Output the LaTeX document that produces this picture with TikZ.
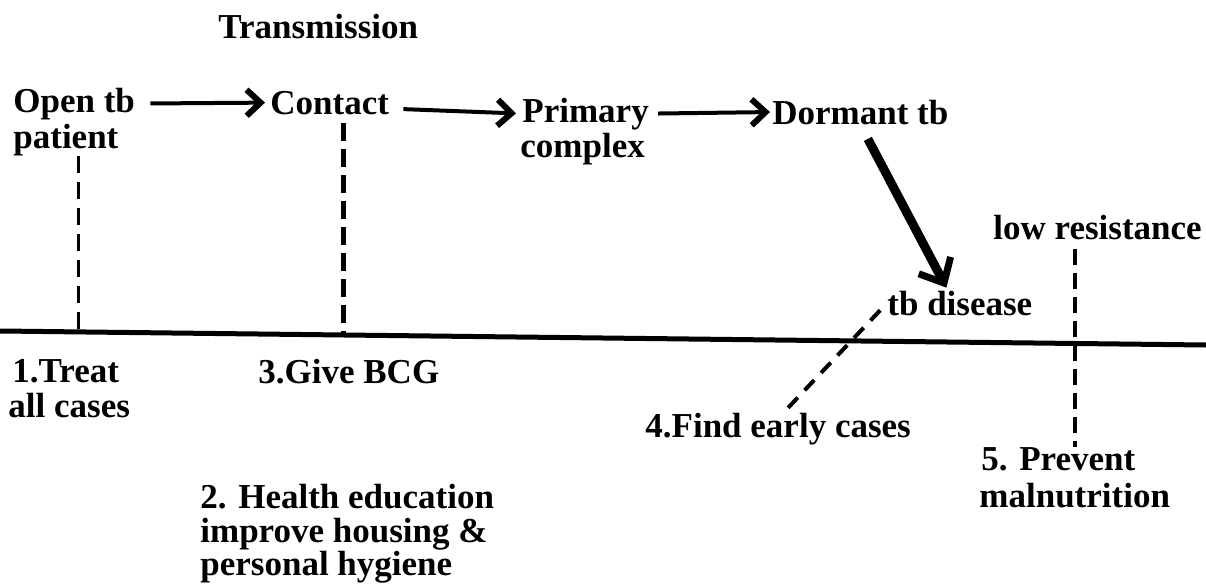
\documentclass[tikz,border=0pt]{standalone}
\usepackage{fontspec}
\setmainfont{Liberation Serif}
\usetikzlibrary{arrows.meta, calc}
\tikzset{
    flow/.style={line width=2pt, -{Straight Barb[length=7pt, width=13pt, line width=3pt]}},
    cut/.style={line width=1.5pt, dash pattern=on 8.5pt off 4.5pt},
}

\begin{document}
\begin{tikzpicture}[x=0.5pt, y=-0.5pt]
\useasboundingbox (0,0) rectangle (1206,584);
\begin{scope}[every node/.style={anchor=base west, inner sep=0pt, font=\fontsize{17.5}{21}\selectfont\bfseries}]
    \node (trans) at (218,38) {Transmission};
    \node (open) at (13,112) {Open tb};
    \node (open2) at (13,148) {patient};
    \node (contact) at (270,114) {Contact};
    \node (primary) at (522,122) {Primary};
    \node (primary2) at (520,157) {complex};
    \node (dormant) at (772,124) {Dormant tb};
    \node (lowres) at (993,239) {low resistance};
    \node (disease) at (887,315) {tb disease};
    \node (treat) at (12,382) {1.Treat};
    \node (treat2) at (8,417) {all cases};
    \node (bcg) at (258,383) {3.Give BCG};
    \node (find) at (645,437) {4.Find early cases};
    \node (prevent) at (981,470) {5. Prevent};
    \node (prevent2) at (979,507) {malnutrition};
    \node (health) at (200,508) {2. Health education};
    \node (health2) at (200,542) {improve housing \&};
    \node (health3) at (200,575) {personal hygiene};
\end{scope}

\coordinate (lineL) at (0,331);
\coordinate (lineR) at (1206,345);
\coordinate (cut1) at (78,332);
\coordinate (cut3) at (343,335);
\coordinate (cut4) at (786,410);
\coordinate (cut5) at (1075,344);

\draw[line width=2.5pt] (lineL) -- (lineR);

\draw[flow, shorten <=7.5pt, shorten >=2.5pt] (open.east) -- (contact.west);
\draw[flow, shorten <=7pt, shorten >=3pt] ([yshift=-3pt]contact.east) -- (primary.west);
\draw[flow, shorten <=4.5pt, shorten >=1pt] (primary.east) -- (dormant.west);
\draw[line width=4.5pt, shorten <=8pt, shorten >=1.5pt, -{Straight Barb[length=10pt, width=18pt, line width=3.5pt]}] (dormant.south) -- ([xshift=-6pt]disease.north);

\draw[cut] (open2.south -| cut1) -- (cut1);
\draw[cut, line width=2.5pt, dash pattern=on 9pt off 4pt, shorten <=4pt] (contact.south -| cut3) -- (cut3);
\draw[cut, line width=2pt, dash pattern=on 7pt off 5pt, shorten <=5pt] (disease.west) -- (cut4);
\draw[cut, line width=2pt, dash pattern=on 8pt off 4pt, shorten <=4.5pt] (lowres.south -| cut5) -- (prevent.north -| cut5);
\end{tikzpicture}
\end{document}
